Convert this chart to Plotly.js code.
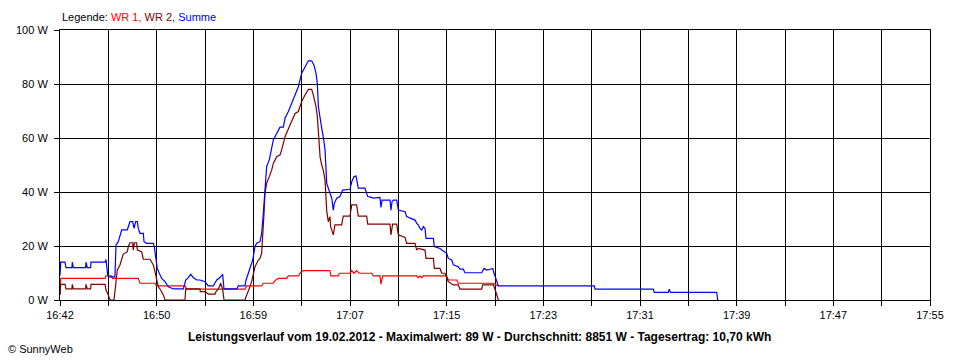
<!DOCTYPE html>
<html>
<head>
<meta charset="utf-8">
<script src="https://cdn.plot.ly/plotly-3.0.1.min.js"></script>
<style>html,body{margin:0;padding:0;background:#fff;}#chart{width:960px;height:360px;}</style>
</head>
<body>
<div id="chart"></div>
<script>
// time in minutes after 16:42, power in W
const timeLabels = ["16:42","16:50","16:59","17:07","17:15","17:23","17:31","17:39","17:47","17:55"];
const axisMinutes = 73;
const powerTicks = [0, 20, 40, 60, 80, 100];
const powerLabels = ["0 W", "20 W", "40 W", "60 W", "80 W", "100 W"];

const wr1Time = [0,0.06,3.78,3.86,4.33,4.40,6.57,6.71,7.97,8.11,10.49,10.63,15.52,15.66,16.92,17.06,17.90,18.04,18.32,19.02,19.16,20.00,20.14,20.42,22.65,22.73,23.35,23.44,24.33,24.48,24.67,24.89,25.11,26.15,26.29,26.85,26.93,27.08,29.93,30.06,30.21,30.35,30.49,32.45,32.58,33.28,33.42,36.36,36.50,36.78];
const wr1Power = [2,8,8,8.9,8.9,8,8,6.2,6.2,5.2,5.2,4,4,5.2,5.2,6.2,6.2,7.2,8,8,8.9,8.9,9.9,10.9,10.9,8.9,8.9,9.9,9.9,10.9,9.9,10.9,9.9,9.9,8.9,8.9,5.9,8.9,8.9,8.3,8.9,8.3,8.9,8.9,7.4,7.4,6.2,6.2,5.8,5.2];

const wr2Time = [0,0.06,0.42,0.50,1.00,1.03,1.12,2.15,2.18,2.29,2.57,2.60,3.78,3.86,4.05,4.20,4.53,4.61,4.70,4.81,5.03,5.18,5.31,5.65,5.73,5.87,6.10,6.15,6.24,6.43,6.49,6.85,6.99,7.55,7.69,7.83,7.97,8.11,8.25,8.45,8.67,8.81,10.49,10.55,11.75,11.77,12.17,12.44,13.01,13.09,13.28,13.48,13.65,13.76,15.52,15.61,15.80,15.94,16.08,16.22,16.36,16.64,16.78,16.92,17.00,17.12,17.20,17.34,17.56,17.76,17.90,18.18,18.46,18.60,18.88,19.16,19.44,19.72,20.00,20.28,20.56,20.84,21.12,21.26,21.48,21.59,21.71,21.82,21.96,22.09,22.24,22.38,22.51,22.65,22.71,22.93,23.07,23.63,23.77,24.33,24.48,24.89,25.03,25.73,25.82,27.69,27.77,27.91,28.25,28.39,28.95,29.09,29.79,29.93,30.06,30.63,30.71,31.33,31.41,31.88,32.03,32.30,32.45,32.58,33.00,33.42,33.56,35.38,35.47,36.36,36.50,36.78];
const wr2Power = [2,5.8,5.8,4.1,4.1,5.8,4.1,4.1,5.8,4.1,4.1,5.8,5.8,3.7,1.9,0,0,3.7,7.4,11.1,13,14.8,17,17.9,19.8,21.2,21.2,18.5,21.2,21.2,18.5,17.9,15.1,15.1,14.2,13,10.5,7.4,4.9,3.7,1.9,0,0,4.1,4.1,3.1,3.1,2.2,2.2,3.1,4,6.2,4,0,0,1.2,3.1,4.9,6.8,9.9,12.3,14.8,15.4,17.3,22.2,32.1,39.5,43.2,45.7,48.1,50.6,53.1,53.7,55.6,60.5,63.6,66.7,69.1,69.8,73.5,75.9,78,78,75.9,71.6,67.9,60.5,53.1,50,48.1,44.4,33,29,30.9,27.2,24.1,27.8,27.8,31.1,31.1,35.2,35.2,31.1,31.1,28.1,28.1,24.1,28.1,28.1,24.1,23.2,21,21,18.5,19.1,18.5,15.4,15.4,11.7,11.7,9.9,9.9,8.3,6.8,5.6,5.6,4,4,5.6,5.6,4,0];

const sumTime = [0,0.06,0.42,0.50,1.00,1.03,1.12,2.15,2.18,2.29,2.57,2.60,3.78,3.82,3.86,4.00,4.10,4.61,4.70,4.89,5.18,5.65,5.87,6.10,6.21,6.35,6.49,6.57,6.71,6.99,7.05,7.27,7.83,7.91,8.05,8.16,8.33,8.53,8.81,9.09,9.51,10.35,10.55,10.77,10.97,11.18,11.47,11.75,12.17,12.44,12.86,13.01,13.15,13.42,13.65,13.76,14.83,14.96,15.52,15.61,15.80,16.00,16.17,16.36,16.50,16.78,16.92,17.06,17.20,17.34,17.56,17.76,17.90,18.18,18.46,18.74,18.88,19.16,19.44,19.72,20.00,20.28,20.56,20.84,21.12,21.31,21.48,21.59,21.68,21.82,21.96,22.09,22.24,22.38,22.60,22.71,22.80,22.93,23.02,23.22,23.49,23.72,24.33,24.48,24.67,24.84,24.95,25.03,25.59,25.73,25.82,26.15,26.29,26.85,26.93,27.02,27.69,27.77,27.86,27.97,28.25,28.39,28.95,29.09,29.79,29.93,30.06,30.21,30.35,30.49,30.63,30.71,31.33,31.41,31.88,32.03,32.45,32.58,32.87,33.00,33.42,33.56,33.84,33.98,35.38,35.58,35.80,36.08,36.31,36.42,36.64,36.78,44.83,44.90,49.78,49.87,51.04,51.12,51.24,55.10,55.19];
const sumPower = [9,14,14,12,12,14,12,12,14,12,12,14,14,15,15,9.3,8.6,8.6,20.4,21.6,26,26,29,29,26.5,29,29,26.5,24.7,24.7,21.6,21,21,19.8,15.4,11.7,9.9,8,6.8,4.9,4.1,4.1,7.4,8.3,9.5,8.3,7.4,7.4,6.8,5.2,5.2,6.2,7.4,8.3,9.5,4.1,4.1,5.2,5.2,7.4,9.9,12.3,14.8,19.8,21,21.6,24.7,32.1,43.2,49.4,51.9,56.8,59.3,61.7,64,64,67.3,69.8,72.8,76.5,79,84,86.4,88.6,88.6,87,84,80.2,71.6,66.7,63.6,60.5,55.6,43.2,40.1,38.9,37.7,33.3,35.8,37.7,38.3,40.7,41,43.8,45.7,45.9,43.8,41.4,41.4,39.8,38.3,38,37.7,38,34.3,37,37,33.3,36.4,37,37,33.3,32.7,30.9,29.6,28.4,27.8,26.5,25.9,27.2,26.5,22.8,22.8,19.8,19.1,18.5,17.3,15.4,14.8,13,12.3,11.4,11.4,10.1,10.1,11.7,11.1,11.4,11.7,9.9,7.4,5.2,5.2,4,4,2.8,2.8,4,2.8,2.8,0];

const gridVals = [];
const gridText = [];
for (let k = 0; k <= 18; k++) {
  gridVals.push(k * axisMinutes / 18);
  gridText.push(k % 2 === 0 ? timeLabels[k / 2] : "");
}

const font = '"Liberation Sans", Arial, sans-serif';
const traces = [
  {x: wr1Time, y: wr1Power, type: 'scatter', mode: 'lines', name: 'WR 1', line: {color: '#ff0000', width: 1.2}},
  {x: wr2Time, y: wr2Power, type: 'scatter', mode: 'lines', name: 'WR 2', line: {color: '#800000', width: 1.2}},
  {x: sumTime, y: sumPower, type: 'scatter', mode: 'lines', name: 'Summe', line: {color: '#0000ff', width: 1.2}}
];

const layout = {
  width: 960, height: 360,
  margin: {l: 60, r: 30, t: 30, b: 60, pad: 0},
  paper_bgcolor: '#ffffff', plot_bgcolor: '#ffffff',
  showlegend: false,
  font: {family: font, size: 11, color: '#000'},
  xaxis: {
    range: [0, axisMinutes], tickmode: 'array', tickvals: gridVals, ticktext: gridText,
    showgrid: true, gridcolor: '#000', gridwidth: 1, zeroline: false,
    showline: true, linecolor: '#000', linewidth: 1, mirror: true,
    ticks: 'outside', ticklen: 5, tickcolor: '#000', tickwidth: 1,
    tickfont: {family: font, size: 11, color: '#000'}
  },
  yaxis: {
    range: [0, 100], tickmode: 'array', tickvals: powerTicks, ticktext: powerLabels,
    showgrid: true, gridcolor: '#000', gridwidth: 1, zeroline: false,
    showline: true, linecolor: '#000', linewidth: 1, mirror: true,
    ticks: 'outside', ticklen: 5, tickcolor: '#000', tickwidth: 1,
    ticklabelstandoff: 4,
    tickfont: {family: font, size: 11, color: '#000'}
  },
  annotations: [
    {xref: 'paper', yref: 'paper', x: 0, y: 1.049, xanchor: 'left', yanchor: 'middle', showarrow: false,
     text: 'Legende: <span style="color:#ff0000">WR 1,</span> <span style="color:#800000">WR 2,</span> <span style="color:#0000ff">Summe</span>',
     font: {family: font, size: 11, color: '#000'}},
    {xref: 'paper', yref: 'paper', x: 0.482, y: -0.136, xanchor: 'center', yanchor: 'middle', showarrow: false,
     text: '<b>Leistungsverlauf vom 19.02.2012 - Maximalwert: 89 W - Durchschnitt: 8851 W - Tagesertrag: 10,70 kWh</b>',
     font: {family: font, size: 12, color: '#000'}},
    {xref: 'paper', yref: 'paper', x: -0.062, y: -0.181, xanchor: 'left', yanchor: 'middle', showarrow: false,
     text: '© SunnyWeb', font: {family: font, size: 11, color: '#000'}}
  ]
};

Plotly.newPlot('chart', traces, layout, {staticPlot: true, displayModeBar: false});
</script>
</body>
</html>
